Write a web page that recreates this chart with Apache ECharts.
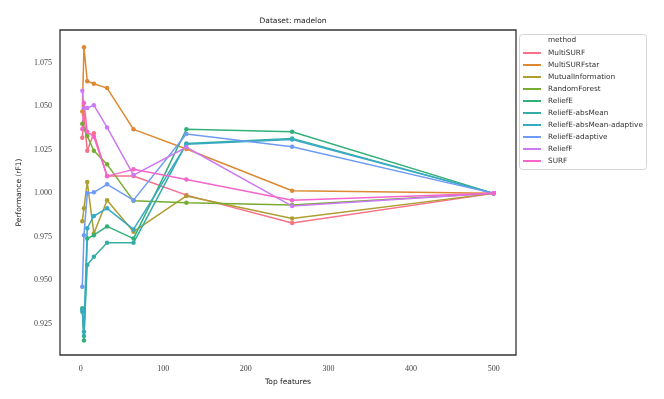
<!DOCTYPE html>
<html>
<head>
<meta charset="utf-8">
<script src="https://cdn.jsdelivr.net/npm/echarts@6/dist/echarts.min.js"></script>
<style>
  html, body { margin: 0; padding: 0; background: #fff; }
  #main { width: 664px; height: 399px; }
</style>
</head>
<body>
<div id="main"></div>
<script>
// number of top features on the x axis
var topFeatures = [2, 4, 8, 16, 32, 64, 128, 256, 500];

// performance (rF1) per method
var multiSURF      = [1.032, 1.045, 1.0245, 1.0345, 1.010, 1.010, 0.999, 0.983, 1.000];
var multiSURFstar  = [1.047, 1.084, 1.0645, 1.063, 1.0605, 1.0368, 1.0255, 1.0015, 1.000];
var mutualInfo     = [0.984, 0.9915, 1.0065, 0.977, 0.996, 0.978, 0.9985, 0.9855, 1.000];
var randomForest   = [1.040, 1.037, 1.033, 1.0245, 1.0167, 0.9957, 0.9946, 0.9933, 1.000];
var reliefE        = [0.934, 0.9155, 0.974, 0.976, 0.981, 0.974, 1.0368, 1.0354, 1.000];
var reliefEAbsMean = [0.932, 0.918, 0.9588, 0.9636, 0.9716, 0.9716, 1.0287, 1.0316, 1.000];
var reliefEAbsMeanAdaptive = [0.933, 0.9205, 0.980, 0.987, 0.9914, 0.9793, 1.0282, 1.031, 1.000];
var reliefEAdaptive = [0.9463, 0.976, 1.000, 1.0006, 1.0052, 0.9961, 1.0341, 1.0268, 1.000];
var reliefF        = [1.059, 1.049, 1.049, 1.0507, 1.0379, 1.0105, 1.0265, 0.9927, 1.000];
var surf           = [1.037, 1.052, 1.0354, 1.0325, 1.0099, 1.0138, 1.008, 0.9961, 1.000];

var methods = ['MultiSURF', 'MultiSURFstar', 'MutualInformation', 'RandomForest', 'ReliefE',
    'ReliefE-absMean', 'ReliefE-absMean-adaptive', 'ReliefE-adaptive', 'ReliefF', 'SURF'];
var values = [multiSURF, multiSURFstar, mutualInfo, randomForest, reliefE,
    reliefEAbsMean, reliefEAbsMeanAdaptive, reliefEAdaptive, reliefF, surf];
// seaborn husl palette, 10 colours
var colors = ['#f77189', '#dc8932', '#ae9d31', '#77ab31', '#33b07a',
    '#36ada4', '#38a9c5', '#6e9bf4', '#cc7af4', '#f565cc'];

var xTicks = [0, 100, 200, 300, 400, 500];
var yTicks = [0.925, 0.950, 0.975, 1.000, 1.025, 1.050, 1.075];

var tickFont = { fontFamily: 'Liberation Serif', fontSize: 8, color: '#444' };
var sansFont = 'DejaVu Sans';

var series = methods.map(function (name, i) {
    return {
        name: name,
        type: 'line',
        data: topFeatures.map(function (x, j) { return [x, values[i][j]]; }),
        symbol: 'circle',
        symbolSize: 4.5,
        showSymbol: true,
        color: colors[i],
        lineStyle: { width: 1.5 },
        emphasis: { disabled: true }
    };
});

var chart = echarts.init(document.getElementById('main'));
chart.setOption({
    backgroundColor: '#fff',
    animation: false,
    grid: {
        left: 60, top: 30, width: 456, height: 325,
        show: true, borderColor: '#333', borderWidth: 1.3, backgroundColor: '#fff'
    },
    title: {
        text: 'Dataset: madelon',
        left: 288, top: 12, textAlign: 'center',
        textStyle: { fontFamily: sansFont, fontSize: 7.5, fontWeight: 'normal', color: '#222' }
    },
    legend: {
        orient: 'vertical',
        left: 523, top: 47,
        padding: 0,
        itemGap: 0,
        itemWidth: 18, itemHeight: 2,
        icon: 'rect',
        data: methods,
        textStyle: { fontFamily: sansFont, fontSize: 7.3, color: '#333', lineHeight: 12, padding: [0, 0, 0, 2] }
    },
    graphic: [
        {
            type: 'rect', left: 519, top: 34, z: -1,
            shape: { width: 127, height: 135, r: 3 },
            style: { fill: '#fff', stroke: '#d6d6d6', lineWidth: 1 }
        },
        {
            type: 'text', left: 548, top: 37,
            style: { text: 'method', font: '7.3px "DejaVu Sans"', fill: '#333' }
        }
    ],
    xAxis: {
        type: 'value',
        min: -25, max: 527,
        name: 'Top features',
        nameLocation: 'middle',
        nameGap: 12,
        nameTextStyle: { fontFamily: sansFont, fontSize: 7.5, color: '#222' },
        axisLine: { show: false },
        axisTick: { show: false },
        splitLine: { show: false },
        axisLabel: {
            customValues: xTicks,
            margin: 10,
            fontFamily: tickFont.fontFamily, fontSize: tickFont.fontSize, color: tickFont.color
        }
    },
    yAxis: {
        type: 'value',
        min: 0.9071, max: 1.0939,
        name: 'Performance (rF1)',
        nameLocation: 'middle',
        nameGap: 28,
        nameTextStyle: { fontFamily: sansFont, fontSize: 7.5, color: '#222' },
        axisLine: { show: false },
        axisTick: { show: false },
        splitLine: { show: false },
        axisLabel: {
            customValues: yTicks,
            margin: 8,
            formatter: function (v) { return v.toFixed(3); },
            fontFamily: tickFont.fontFamily, fontSize: tickFont.fontSize, color: tickFont.color
        }
    },
    series: series
});
</script>
</body>
</html>
